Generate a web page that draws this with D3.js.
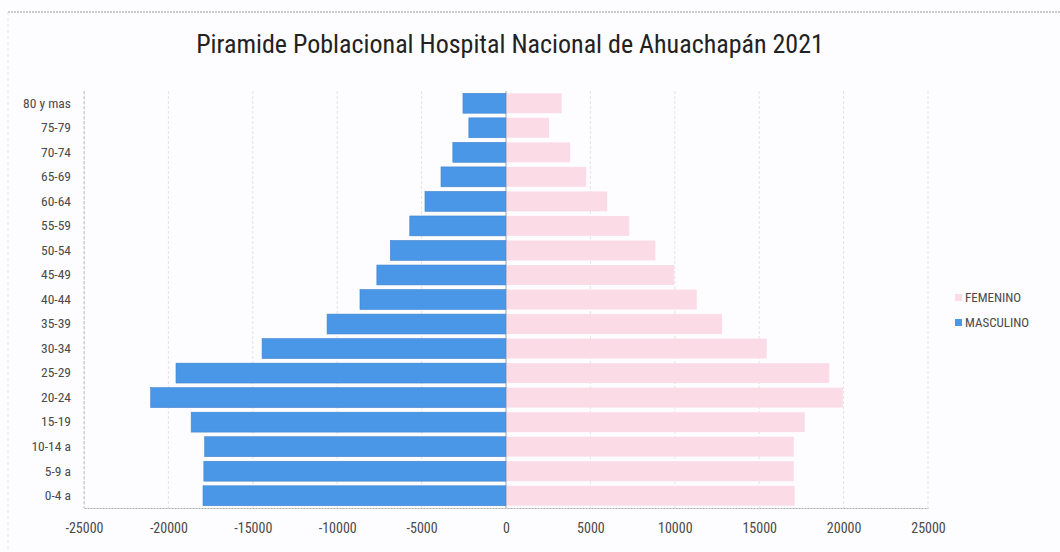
<!DOCTYPE html>
<html>
<head>
<meta charset="utf-8">
<script src="https://cdn.jsdelivr.net/npm/d3@7/dist/d3.min.js"></script>
<style>
  body { margin: 0; background: #fdfcfe; }
  svg { display: block; }
</style>
</head>
<body>
<svg id="chart" width="1060" height="552"></svg>
<script>
// age groups, top to bottom
const ageGroups = ["80 y mas", "75-79", "70-74", "65-69", "60-64", "55-59", "50-54", "45-49",
  "40-44", "35-39", "30-34", "25-29", "20-24", "15-19", "10-14 a", "5-9 a", "0-4 a"];
const masculino = [2550, 2200, 3150, 3850, 4800, 5700, 6850, 7650,
  8650, 10600, 14450, 19550, 21050, 18650, 17850, 17900, 17950];
const femenino = [3300, 2550, 3800, 4750, 6000, 7300, 8850, 9950,
  11300, 12800, 15450, 19150, 19950, 17700, 17050, 17050, 17100];
const xTicks = [-25000, -20000, -15000, -10000, -5000, 0, 5000, 10000, 15000, 20000, 25000];
const legendItems = [
  { name: "FEMENINO", color: "#fadbe6" },
  { name: "MASCULINO", color: "#4a97e8" },
];

const font = "'Liberation Sans Narrow', 'Roboto Condensed', Roboto, sans-serif";
const svg = d3.select("#chart");
const pL = 84, pR = 928, pT = 91, pB = 508;

// outer frame (dashed like the scan)
svg.append("line").attr("x1", 8).attr("x2", 1060).attr("y1", 12).attr("y2", 12)
  .attr("stroke", "#9a9a9a").attr("stroke-dasharray", "2,1");
svg.append("line").attr("x1", 8).attr("x2", 8).attr("y1", 12).attr("y2", 552)
  .attr("stroke", "#e2e2e2").attr("stroke-dasharray", "3,3");

/* scales */
const x = d3.scaleLinear().domain([-25000, 25000]).range([pL, pR]);
const y = d3.scaleBand().domain(ageGroups).range([pT, pB]).paddingInner(0.19).paddingOuter(0.095);

// gridlines
svg.append("g")
  .selectAll("line")
  .data(xTicks.filter((d) => d !== 0))
  .join("line")
  .attr("x1", (d) => x(d)).attr("x2", (d) => x(d))
  .attr("y1", pT).attr("y2", pB)
  .attr("stroke", (d, i) => (i === 0 ? "#c8c8c8" : "#e4e4e4"))
  .attr("stroke-dasharray", "3,2");

// bars
svg.append("g")
  .selectAll("rect")
  .data(ageGroups)
  .join("rect")
  .attr("x", (d, i) => x(-masculino[i]))
  .attr("y", (d) => y(d))
  .attr("width", (d, i) => x(0) - x(-masculino[i]))
  .attr("height", y.bandwidth())
  .attr("fill", legendItems[1].color)
  .attr("stroke", "#3f84cc").attr("stroke-width", 0.6);

svg.append("g")
  .selectAll("rect")
  .data(ageGroups)
  .join("rect")
  .attr("x", x(0))
  .attr("y", (d) => y(d))
  .attr("width", (d, i) => x(femenino[i]) - x(0))
  .attr("height", y.bandwidth())
  .attr("fill", legendItems[0].color);

// zero line
svg.append("line").attr("x1", x(0)).attr("x2", x(0)).attr("y1", pT).attr("y2", pB)
  .attr("stroke", "#7d8ea8").attr("stroke-width", 0.8);

// x axis
const xAxis = svg.append("g")
  .attr("transform", `translate(0,${pB})`)
  .call(d3.axisBottom(x).tickValues(xTicks).tickSize(0).tickPadding(15).tickFormat((d) => String(d)));
xAxis.select(".domain").attr("stroke", "#a8a8a8").attr("stroke-dasharray", "2,1");
xAxis.selectAll("text").attr("font-family", font).attr("font-size", 14).attr("fill", "#4a4a4a");

// y axis
const yAxis = svg.append("g")
  .attr("transform", `translate(${pL},0)`)
  .call(d3.axisLeft(y).tickSize(0).tickPadding(13));
yAxis.select(".domain").attr("stroke", "#d0d0d0").attr("stroke-dasharray", "3,2");
yAxis.selectAll("text").attr("font-family", font).attr("font-size", 13.5).attr("fill", "#4a4a4a");

// title
svg.append("text")
  .attr("x", 510).attr("y", 53)
  .attr("text-anchor", "middle")
  .attr("font-family", font)
  .attr("font-size", 26)
  .attr("fill", "#222")
  .text("Piramide Poblacional Hospital Nacional de Ahuachapán 2021");

// legend
const legend = svg.append("g").attr("transform", "translate(955,298)");
legend.selectAll("rect")
  .data(legendItems)
  .join("rect")
  .attr("x", 0).attr("y", (d, i) => i * 25 - 4)
  .attr("width", 7).attr("height", 7)
  .attr("fill", (d) => d.color);
legend.selectAll("text")
  .data(legendItems)
  .join("text")
  .attr("x", 10).attr("y", (d, i) => i * 25 + 4)
  .attr("font-family", font).attr("font-size", 13).attr("fill", "#4a4a4a")
  .text((d) => d.name);
</script>
</body>
</html>
